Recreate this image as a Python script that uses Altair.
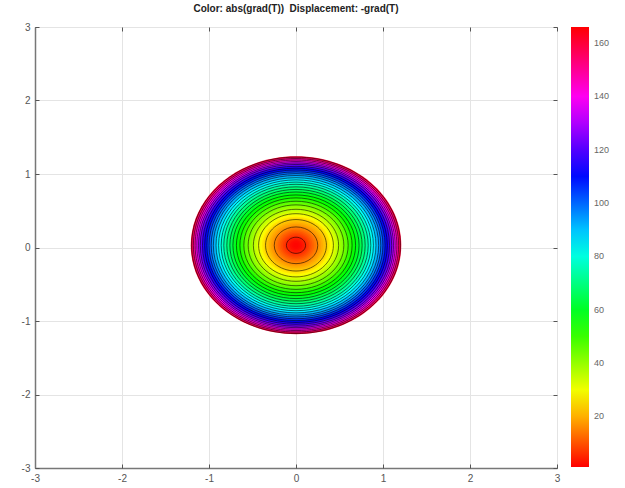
import altair as alt
import pandas as pd

# Centre of the displaced disc (data units)
CX = 0.0
CY = 0.03

# Filled colour bands: outer radius of each band and its |grad(T)| value
band_r = [1.21, 1.19, 1.17, 1.15, 1.13, 1.11, 1.09, 1.07, 1.05, 1.03,
          1.01, 0.99, 0.97, 0.95, 0.93, 0.91, 0.89, 0.87, 0.85, 0.83,
          0.81, 0.79, 0.77, 0.75, 0.73, 0.71, 0.69, 0.67, 0.65, 0.63,
          0.61, 0.59, 0.57, 0.55, 0.53, 0.51, 0.49, 0.47, 0.45, 0.43,
          0.41, 0.39, 0.37, 0.35, 0.33, 0.31, 0.29, 0.27, 0.25, 0.23,
          0.21, 0.19, 0.17, 0.15, 0.13, 0.11, 0.09, 0.07, 0.05, 0.03]
band_v = [160, 152, 145, 138, 131, 125, 120, 115, 111, 107,
          103, 99, 95, 92, 89, 86, 83, 80, 77, 74,
          71, 69, 66, 64, 61, 59, 57, 55, 53, 51,
          48, 46, 44, 42, 40, 38, 36, 34, 32, 30,
          28, 26, 24, 22.5, 21, 19.5, 18, 16.5, 15, 13.5,
          12, 10.5, 9, 7.5, 6, 4.5, 3.5, 2.5, 2, 1.5]

# Contour line radii
contour_r = [0.11, 0.25, 0.35, 0.43, 0.49, 0.55, 0.60, 0.645, 0.685, 0.725,
             0.76, 0.795, 0.83, 0.86, 0.89, 0.92, 0.95, 0.975, 1.0, 1.025,
             1.05, 1.075, 1.10, 1.12, 1.14, 1.16, 1.18, 1.20]

# Axis ticks and colour bar labels
axis_ticks = [-3, -2, -1, 0, 1, 2, 3]
cbar_ticks = [20, 40, 60, 80, 100, 120, 140, 160]

# hsv colour map, piecewise linear in RGB
cmap_domain = [1, 28.5, 56, 83.5, 111, 138.5, 166]
cmap_range = ["#ff0000", "#ffff00", "#00ff00", "#00ffff",
              "#0000ff", "#ff00ff", "#ff0000"]

W, H = 522, 441
PX_X = W / 6.0
PX_Y = H / 6.0
# unit ellipse whose aspect follows the pixel scale of the two axes
ELLIPSE = "M-1,0A1,{a:.4f},0,1,0,1,0A1,{a:.4f},0,1,0,-1,0Z".format(a=PX_Y / PX_X)
R_REF = 1.2
SIZE_MAX = 4 * (PX_X * R_REF) ** 2

FONT = "Liberation Sans, Arial, sans-serif"
TICK = 4

bands = pd.DataFrame({"r": band_r, "v": band_v, "cx": CX, "cy": CY})
contours = pd.DataFrame({"r": contour_r, "cx": CX, "cy": CY})

plain = "datum.value + ''"
xy_scale = alt.Scale(domain=[-3, 3], nice=False, zero=False)


def label_axis(orient):
    return alt.Axis(values=axis_ticks, title=None, labelFlush=False,
                    labelExpr=plain, orient=orient, grid=True, ticks=False)


def tick_axis(orient):
    # tick-only axis pulled inside the frame so that its ticks point inwards
    return alt.Axis(values=axis_ticks, title=None, orient=orient, grid=False,
                    labels=False, domain=False, ticks=True, tickSize=TICK,
                    offset=-TICK, tickColor="#555", tickWidth=1)


size_enc = alt.Size("r:Q", scale=alt.Scale(type="pow", exponent=2,
                                            domain=[0, R_REF], range=[0, SIZE_MAX]),
                    legend=None)

fill = alt.Chart(bands).mark_point(
    shape=ELLIPSE, filled=True, opacity=1, strokeWidth=0
).encode(
    x=alt.X("cx:Q", scale=xy_scale, axis=label_axis("bottom")),
    y=alt.Y("cy:Q", scale=xy_scale, axis=label_axis("left")),
    size=size_enc,
    color=alt.Color("v:Q",
                    scale=alt.Scale(domain=cmap_domain, range=cmap_range,
                                    interpolate="rgb"),
                    legend=alt.Legend(
                        title=None, orient="none", legendX=W + 14, legendY=0,
                        direction="vertical", gradientLength=H - 1,
                        gradientThickness=18, gradientStrokeWidth=0,
                        values=cbar_ticks, labelFontSize=9, labelColor="#666",
                        labelFont=FONT, labelOffset=5, labelOverlap=False)),
    order=alt.Order("r:Q", sort="descending"),
)

lines = alt.Chart(contours).mark_point(
    shape=ELLIPSE, filled=False, color="#000000", opacity=0.8, strokeWidth=0.7
).encode(
    x=alt.X("cx:Q", scale=xy_scale, axis=tick_axis("top")),
    y=alt.Y("cy:Q", scale=xy_scale, axis=tick_axis("right")),
    size=size_enc,
)

# invisible copy carrying the inward ticks of the bottom and left edges
ticks_bl = alt.Chart(contours).mark_point(
    shape=ELLIPSE, filled=False, opacity=0
).encode(
    x=alt.X("cx:Q", scale=xy_scale, axis=tick_axis("bottom")),
    y=alt.Y("cy:Q", scale=xy_scale, axis=tick_axis("left")),
    size=size_enc,
)

chart = alt.layer(fill, lines, ticks_bl).resolve_axis(
    x="independent", y="independent"
).properties(
    width=W, height=H,
    title=alt.TitleParams("Color: abs(grad(T))\u00a0 Displacement: -grad(T)",
                          fontSize=10, fontWeight="bold", font=FONT,
                          anchor="middle", offset=8, color="#222"),
    autosize=alt.AutoSizeParams(type="none"),
    padding={"left": 35, "top": 27, "right": 68, "bottom": 20},
).configure_view(
    stroke="#666", strokeWidth=1
).configure_axis(
    gridColor="#e4e4e4", gridWidth=1,
    domainColor="#777", domainWidth=1.5,
    labelFont=FONT, labelFontSize=10, labelColor="#555",
    labelPadding=5,
)

chart.save("out.html", embed_options={"renderer": "svg", "actions": False})
